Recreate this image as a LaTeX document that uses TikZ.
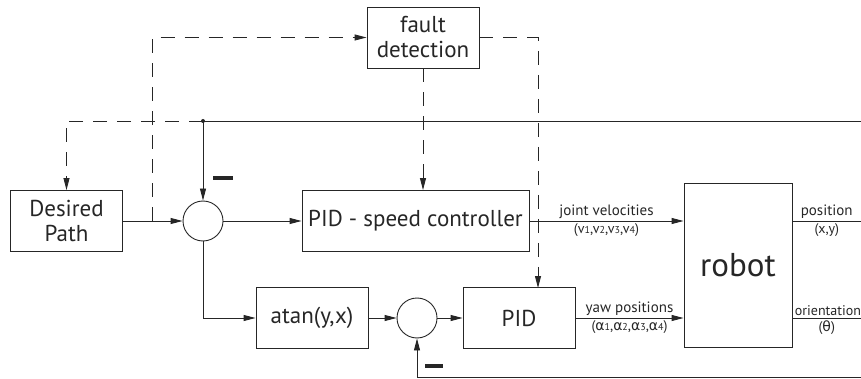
\documentclass[tikz,border=0pt]{standalone}
\usepackage{fontspec}
\setmainfont{PT Sans}
\newfontfamily\grk{DejaVu Sans}
\usetikzlibrary{arrows.meta}

\newcommand{\lowdigit}[1]{{\fontsize{10}{10}\selectfont #1}}

\tikzset{
  block/.style={draw, rectangle, minimum width=112pt, minimum height=61pt,
    inner sep=0pt, align=center, font=\fontsize{23}{25}\selectfont},
  junction/.style={draw, circle, minimum size=40pt, inner sep=0pt},
  signal/.style={-{Triangle[length=12pt,width=6pt]}},
  watch/.style={dash pattern=on 14pt off 10pt},
  sig/.style={font=\fontsize{15}{17}\selectfont, inner sep=2pt},
  sub/.style={font=\fontsize{14}{16}\selectfont, inner sep=2pt},
}

\begin{document}
\begin{tikzpicture}[x=1pt, y=-1pt, line width=0.9pt, color=black!85]
  \def\topY{121}
  \def\midY{221}
  \def\lowY{318}
  \def\botY{377}
  \useasboundingbox (0,0) rectangle (861,379);

  % blocks
  \node[block] (path) at (66.5,\midY) {Desired\\Path};
  \node[junction] (sumA) at (203,\midY) {};
  \node[block, minimum width=227pt] (speed) at (415.5,\midY) {PID - speed controller};
  \node[block] (fault) at (423,37.5) {fault\\detection};
  \node[block] (atan) at (312,\lowY) {atan(y,x)};
  \node[junction] (sumB) at (417,\lowY) {};
  \node[block] (pid) at (519,\lowY) {PID};
  \node[block, minimum width=108pt, minimum height=164pt,
    font=\fontsize{33}{36}\selectfont] (robot) at (738,265) {robot};

  % signs at the summing points
  \node (minusA) at (223,178) {\rule{20pt}{4pt}};
  \node (minusB) at (434,366) {\rule{18pt}{4pt}};

  % free ends and taps
  \coordinate (tapA) at (203,\topY);
  \coordinate (tapB) at (152,\midY);
  \coordinate (pidIn) at (538,288);
  \coordinate (fbTop) at (861,\topY);
  \coordinate (fbBot) at (861,\botY);
  \coordinate (outPos) at (861,\midY);
  \coordinate (outYaw) at (861,\lowY);

  % forward path
  \draw[signal] (path) -- (sumA);
  \draw[signal] (sumA) -- (speed);
  \draw[signal] (sumA.south) |- (atan.west);
  \draw[signal] (atan) -- (sumB);
  \draw[signal] (sumB) -- (pid);
  \draw[signal] (speed.east) -- node[sig, above] {joint velocities}
    node[sub, below] {(v\lowdigit1,v\lowdigit2,v\lowdigit3,v\lowdigit4)} (speed.east -| robot.west);
  \draw[signal] (pid.east) -- node[sig, above] {yaw positions}
    node[sub, below] {({\grk α}\lowdigit1,{\grk α}\lowdigit2,{\grk α}\lowdigit3,{\grk α}\lowdigit4)} (pid.east -| robot.west);
  \draw (robot.east |- outPos) -- node[sig, above] {position} node[sub, below] {(x,y)} (outPos);
  \draw (robot.east |- outYaw) -- node[sub, below] {({\grk θ})} (outYaw);
  \node[sig, font=\fontsize{14}{16}\selectfont, anchor=south west, inner sep=1pt]
    (orient) at ([xshift=1pt,yshift=1pt]robot.east |- outYaw) {orientation};

  % feedback
  \draw (fbTop) -- (tapA);
  \fill (tapA) circle (2pt);
  \draw[signal] (tapA) -- (sumA);
  \draw[signal, watch] (tapA) -| (path);
  \draw[signal] (fbBot) -| (sumB);

  % fault detection
  \draw[signal, watch] (tapB) |- (fault);
  \draw[signal, watch] (fault.south) -- (fault.south |- speed.north);
  \draw[signal, watch] (fault.east) -| (pidIn);
\end{tikzpicture}
\end{document}
